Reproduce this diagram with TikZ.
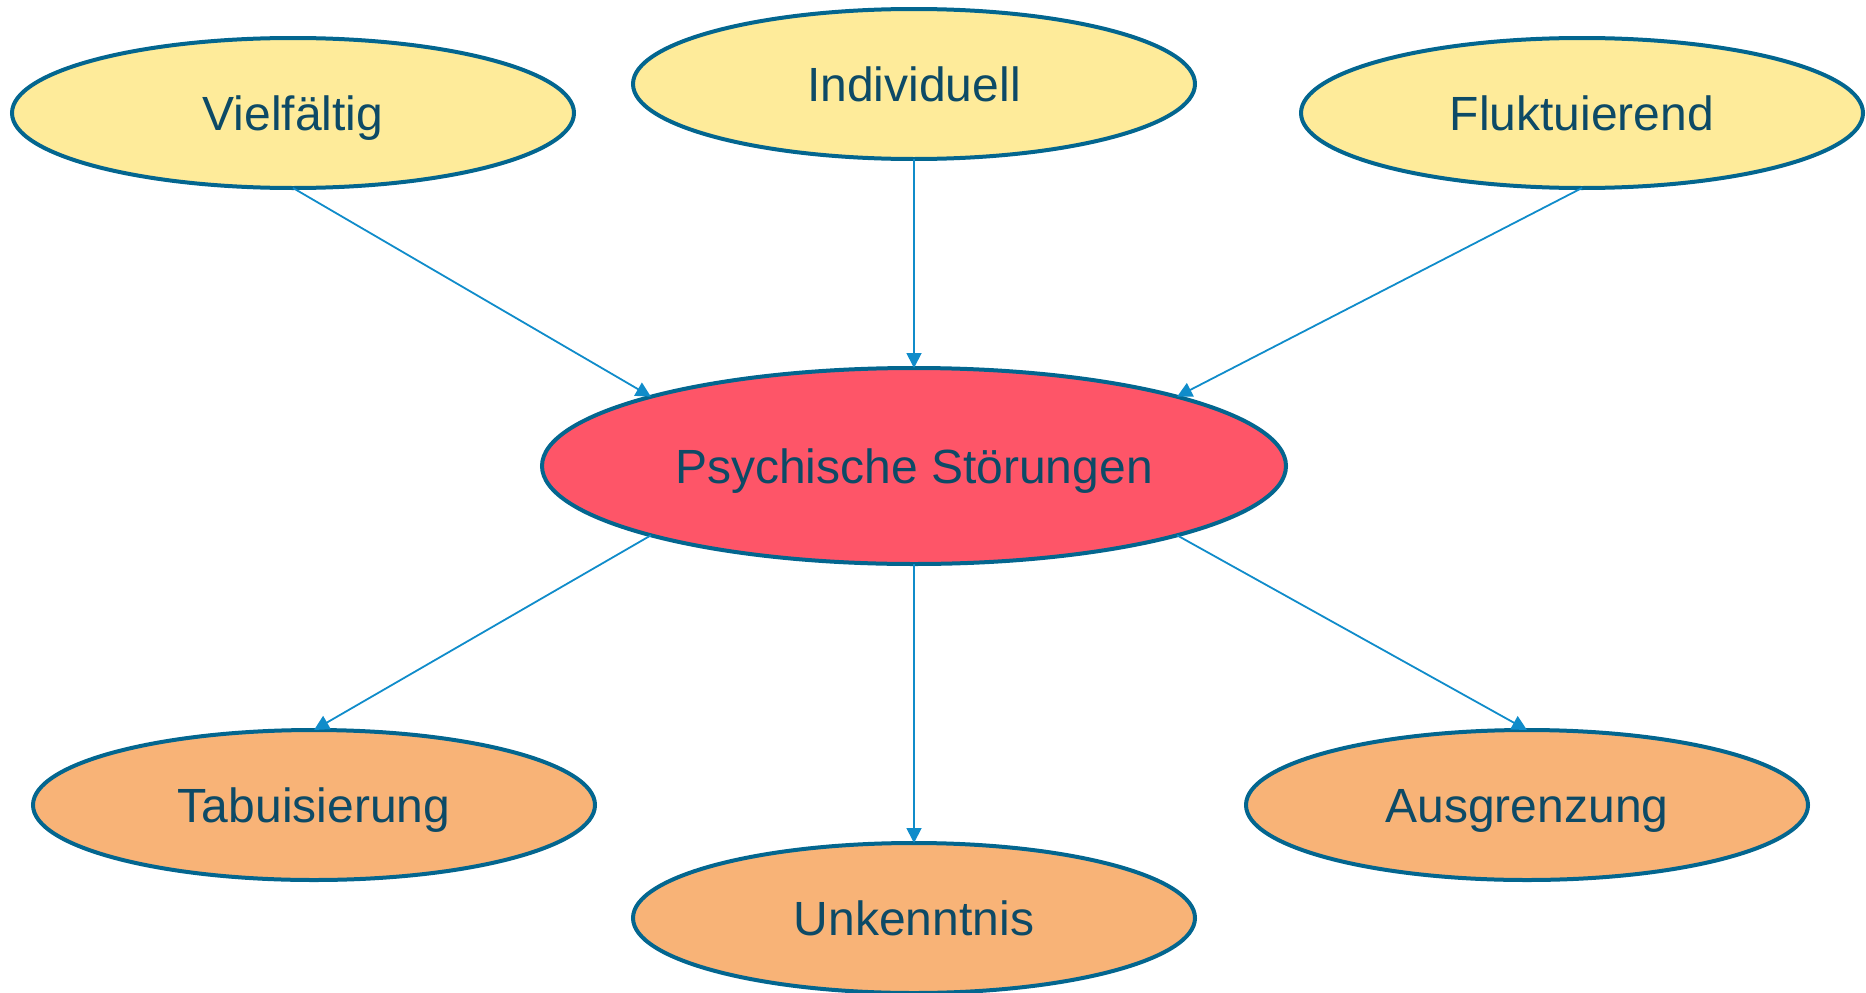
\documentclass[tikz,border=0pt]{standalone}
\usepackage{fontspec}
\setmainfont{Liberation Sans}
\usetikzlibrary{shapes.geometric,arrows.meta}
\definecolor{rimblue}{HTML}{03668F}
\definecolor{linkblue}{HTML}{108CCA}
\definecolor{inktext}{HTML}{0D4A66}
\definecolor{softyellow}{HTML}{FEEB9A}
\definecolor{coral}{HTML}{FE5568}
\definecolor{apricot}{HTML}{F8B377}
\begin{document}
\begin{tikzpicture}[x=1pt,y=-1pt,
  bubble/.style={ellipse, draw=rimblue, line width=4pt, inner sep=0pt, outer sep=0pt,
    minimum width=562pt, minimum height=150pt, text=inktext,
    text height=34pt, text depth=0pt,
    font=\fontsize{48}{57}\selectfont},
  link/.style={draw=linkblue, line width=1.8pt, -{Triangle[length=15pt,width=15pt]}}]
\useasboundingbox (0,0) rectangle (1866,993);
% causes / traits
\node[bubble, fill=softyellow] (viel) at (293,113) {Vielfältig};
\node[bubble, fill=softyellow] (indiv) at (914,84) {Individuell};
\node[bubble, fill=softyellow] (fluk) at (1582,113) {Fluktuierend};
% centre
\node[bubble, fill=coral, minimum width=744pt, minimum height=196pt] (psy) at (914,466) {Psychische Störungen};
% consequences
\node[bubble, fill=apricot] (tabu) at (314,805) {Tabuisierung};
\node[bubble, fill=apricot] (unk) at (914,918) {Unkenntnis};
\node[bubble, fill=apricot] (aus) at (1527,805) {Ausgrenzung};
% connectors
\draw[link] (viel.south) -- (psy.north west);
\draw[link] (indiv.south) -- (psy.north);
\draw[link] (fluk.south) -- (psy.north east);
\draw[link] (psy.south west) -- (tabu.north);
\draw[link] (psy.south) -- (unk.north);
\draw[link] (psy.south east) -- (aus.north);
\end{tikzpicture}
\end{document}
